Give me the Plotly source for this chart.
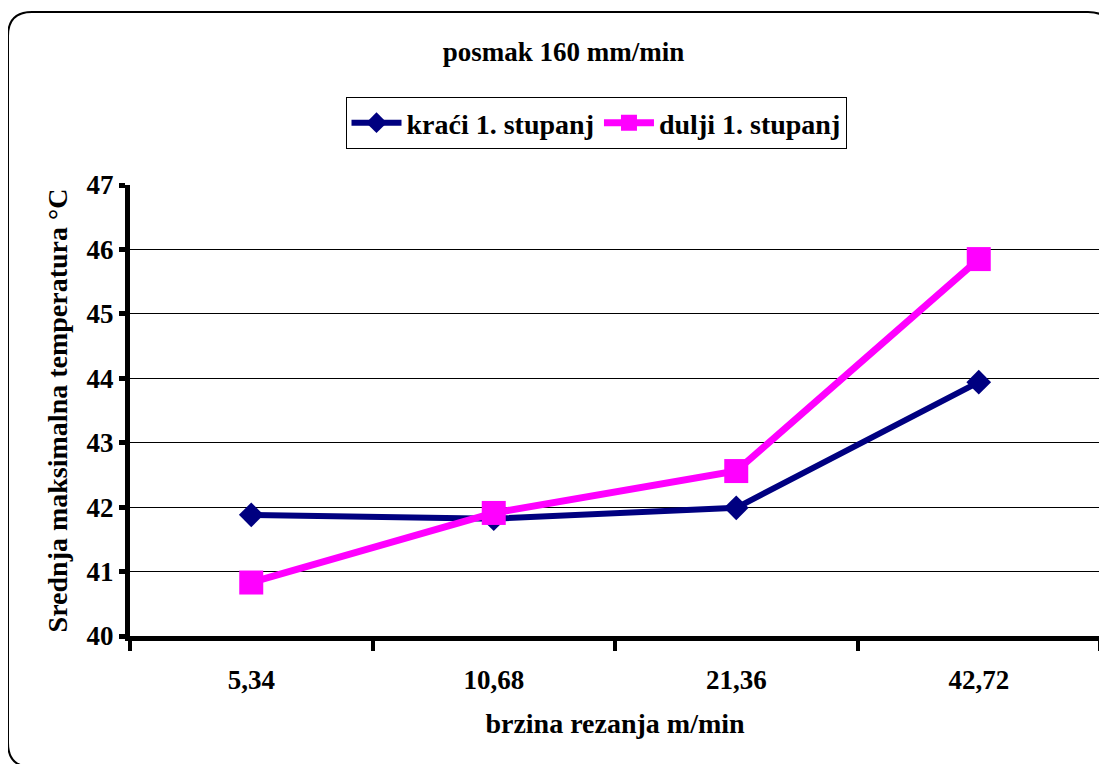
import plotly.graph_objects as go

# data
brzina = ["5,34", "10,68", "21,36", "42,72"]
kraci = [41.88, 41.82, 41.99, 43.94]
dulji = [40.83, 41.91, 42.56, 45.85]

# the page body has an 8px margin, so the figure is drawn 8px smaller
OFF = 8
W, H = 1107 - OFF, 764 - OFF
L, R, T, B = 130 - OFF, 7, 185 - OFF, 128
FONT = "Liberation Serif, Times New Roman, serif"


def px(x, y):
    # position on the page -> paper coordinates
    x, y = x - OFF, y - OFF
    return (x - L) / (W - L - R), (H - B - y) / (H - T - B)


def rounded_path(x0, y0, x1, y1, r):
    def p(x, y):
        a, b = px(x, y)
        return f"{a:.5f},{b:.5f}"
    pts = [
        "M " + p(x0 + r, y0),
        "L " + p(x1 - r, y0),
        "Q " + p(x1, y0) + " " + p(x1, y0 + r),
        "L " + p(x1, y1 - r),
        "Q " + p(x1, y1) + " " + p(x1 - r, y1),
        "L " + p(x0 + r, y1),
        "Q " + p(x0, y1) + " " + p(x0, y1 - r),
        "L " + p(x0, y0 + r),
        "Q " + p(x0, y0) + " " + p(x0 + r, y0),
    ]
    return " ".join(pts) + " Z"


fig = go.Figure()

fig.add_trace(go.Scatter(
    x=brzina, y=kraci,
    mode="lines+markers",
    line=dict(color="#000080", width=6),
    marker=dict(symbol="diamond", size=19, color="#000080"),
    name="kraći 1. stupanj",
))

fig.add_trace(go.Scatter(
    x=brzina, y=dulji,
    mode="lines+markers",
    line=dict(color="#FF00FF", width=7),
    marker=dict(symbol="square", size=24, color="#FF00FF"),
    name="dulji 1. stupanj",
))

# outer rounded frame
fig.add_shape(type="path", xref="paper", yref="paper",
              path=rounded_path(8, 12, 1112, 767, 24),
              line=dict(color="black", width=2), layer="below")

lx, ly = px(596, 97)
tx = ((440 + 687) / 2 - OFF) / W
ty = 1 - (52 - OFF) / H

fig.update_layout(
    width=W, height=H,
    paper_bgcolor="white",
    plot_bgcolor="white",
    margin=dict(l=L, r=R, t=T, b=B),
    font=dict(family=FONT, size=27, color="black", weight="bold"),
    title=dict(text="posmak 160 mm/min", x=tx, xanchor="center",
               y=ty, yanchor="middle",
               font=dict(family=FONT, size=27, weight="bold")),
    showlegend=True,
    legend=dict(orientation="h", x=lx, xanchor="center", y=ly, yanchor="top",
                bordercolor="black", borderwidth=1, bgcolor="white",
                font=dict(family=FONT, size=28, weight="bold"),
                itemwidth=50),
    xaxis=dict(
        type="category",
        range=[-0.5, len(brzina) - 0.5],
        tickson="boundaries",
        ticks="outside", ticklen=10, tickwidth=4, tickcolor="black",
        showline=True, linewidth=5, linecolor="black",
        showgrid=False, zeroline=False,
        ticklabelstandoff=16,
        tickfont=dict(family=FONT, size=27, weight="bold"),
        title=dict(text="brzina rezanja m/min", standoff=20,
                   font=dict(family=FONT, size=28, weight="bold")),
    ),
    yaxis=dict(
        range=[40, 47], dtick=1,
        ticks="outside", ticklen=6, tickwidth=5, tickcolor="black",
        showline=True, linewidth=5, linecolor="black",
        showgrid=True, gridcolor="black", gridwidth=1,
        zeroline=False,
        ticklabelstandoff=0,
        tickfont=dict(family=FONT, size=27, weight="bold"),
        title=dict(text="Srednja maksimalna temperatura °C", standoff=12,
                   font=dict(family=FONT, size=28, weight="bold")),
    ),
)

fig.write_html("out.html")
